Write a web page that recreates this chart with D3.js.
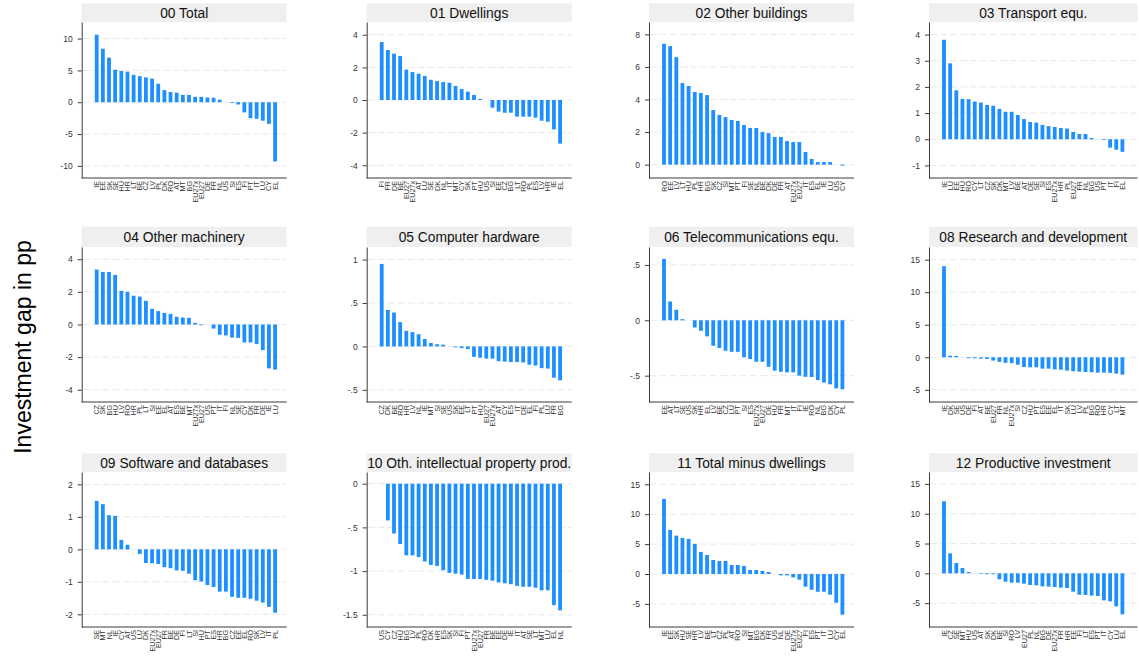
<!DOCTYPE html>
<html><head><meta charset="utf-8">
<script src="https://cdn.jsdelivr.net/npm/d3@7"></script>
<style>
body{margin:0;background:#fff}
svg{display:block;font-family:"Liberation Sans",Arial,Helvetica,sans-serif}
</style>
</head><body>
<svg id="chart" width="1139" height="656"></svg>
<script>
// ---------- DATA ----------
const titles = ["00 Total","01 Dwellings","02 Other buildings","03 Transport equ.",
  "04 Other machinery","05 Computer hardware","06 Telecommunications equ.","08 Research and development",
  "09 Software and databases","10 Oth. intellectual property prod.","11 Total minus dwellings","12 Productive investment"];

const labels00 = ["IE","EE","SK","SE","HU","HR","LT","BE","CZ","LV","PL","DK","RO","AT","MT","BG","EU27x","EU27","DE","FR","NL","US","SI","ES","FI","PT","IT","LU","CY","EL"];
const values00 = [10.6,8.4,7.0,5.1,4.9,4.8,4.3,4.1,3.9,3.7,2.9,1.9,1.6,1.5,1.15,1.15,0.85,0.85,0.75,0.7,0.4,0,-0.12,-0.35,-1.6,-2.5,-2.6,-2.9,-3.4,-9.3];

const labels01 = ["FI","FR","DE","BE","EU27","EU27x","AT","LU","SE","DK","NL","IT","MT","CY","SK","PT","HU","US","SI","EE","CZ","BG","LT","RO","PL","ES","LV","HR","IE","EL"];
const values01 = [3.55,3.06,2.84,2.69,1.86,1.71,1.61,1.47,1.24,1.16,1.10,1.06,0.86,0.67,0.51,0.31,0.06,0,-0.47,-0.71,-0.78,-0.78,-1.02,-1.02,-1.02,-1.08,-1.27,-1.33,-1.8,-2.67];

const labels02 = ["RO","EE","LV","LT","HU","PL","HR","BG","SK","CZ","SI","MT","PT","FI","SE","NL","BE","DK","DE","FR","AT","EU27x","EU27","IT","ES","EL","IE","LU","US","CY"];
const values02 = [7.42,7.28,6.6,5.01,4.83,4.46,4.4,4.27,3.35,3.05,2.92,2.74,2.68,2.43,2.25,2.25,2.0,1.94,1.7,1.7,1.45,1.39,1.39,0.78,0.35,0.16,0.16,0.16,0,-0.06];

const labels03 = ["IE","LU","EE","HU","RO","CY","LT","CZ","SK","DK","MT","LV","BE","AT","DE","SE","SI","ES","EU27x","HR","PL","EU27","FR","NL","BG","US","PT","IT","FI","EL"];
const values03 = [3.8,2.9,1.87,1.54,1.53,1.44,1.4,1.31,1.28,1.16,1.05,1.05,0.93,0.77,0.66,0.64,0.55,0.5,0.47,0.43,0.41,0.28,0.2,0.2,0.05,0,-0.03,-0.32,-0.4,-0.48];

const labels04 = ["CZ","SK","BG","HU","LV","RO","HR","PL","LT","SI","EE","EL","AT","ES","BE","MT","EU27x","EU27","US","PT","IT","FI","NL","SE","CY","DK","FR","DE","IE","LU"];
const values04 = [3.37,3.22,3.22,3.04,2.06,2.0,1.76,1.71,1.45,0.96,0.82,0.71,0.65,0.47,0.43,0.41,0.1,-0.05,0,-0.25,-0.63,-0.67,-0.8,-0.82,-1.1,-1.1,-1.2,-1.57,-2.69,-2.76];

const labels05 = ["CZ","DK","BE","RO","HR","LV","NL","IE","MT","SI","SE","US","SK","EE","LT","PT","HU","EU27","EU27x","AT","CY","ES","IT","DE","EL","FI","PL","LU","FR","BG"];
const values05 = [0.95,0.42,0.39,0.28,0.18,0.165,0.14,0.085,0.04,0.025,0.02,0,-0.01,-0.02,-0.03,-0.12,-0.13,-0.14,-0.14,-0.17,-0.175,-0.18,-0.18,-0.185,-0.21,-0.22,-0.25,-0.255,-0.36,-0.39];

const labels06 = ["EE","AT","LT","SE","US","SK","HR","EL","LV","BE","CZ","LU","PT","SI","ES","EU27x","EU27","DE","HU","FR","MT","IT","FI","IE","RO","NL","BG","DK","CY","PL"];
const values06 = [0.555,0.17,0.095,0.01,0,-0.065,-0.095,-0.145,-0.23,-0.25,-0.275,-0.285,-0.285,-0.335,-0.35,-0.375,-0.375,-0.42,-0.455,-0.465,-0.47,-0.47,-0.5,-0.51,-0.512,-0.54,-0.563,-0.578,-0.615,-0.623];

const labels08 = ["IE","DK","SE","US","DE","FI","AT","BE","EU27","FR","NL","EU27x","SI","CZ","HU","PT","ES","EE","EL","IT","SK","LU","LV","PL","BG","RO","HR","CY","LT","MT"];
const values08 = [14.0,0.25,0.2,0,-0.15,-0.15,-0.2,-0.25,-0.5,-0.7,-0.85,-0.9,-1.13,-1.49,-1.54,-1.54,-1.74,-1.74,-1.85,-1.9,-2.05,-2.15,-2.2,-2.26,-2.3,-2.36,-2.36,-2.4,-2.51,-2.67];

const labels09 = ["SE","MT","NL","IE","CY","AT","US","LU","DK","EU27x","EU27","FR","BE","DE","FI","LT","SI","HU","PT","ES","HR","BG","CZ","EE","EL","RO","SK","LV","IT","PL"];
const values09 = [1.49,1.39,1.05,1.03,0.29,0.14,0,-0.14,-0.42,-0.43,-0.45,-0.55,-0.58,-0.65,-0.66,-0.75,-0.95,-0.99,-1.1,-1.16,-1.3,-1.3,-1.46,-1.49,-1.49,-1.52,-1.58,-1.64,-1.77,-1.95];

const labels10 = ["US","CY","CZ","HU","BG","LV","PL","RO","DK","HR","ES","SK","SI","FI","PT","EU27x","EU27","FR","BE","EE","DE","IE","IT","AT","SE","LT","MT","LU","EL","NL"];
const values10 = [0,-0.42,-0.57,-0.69,-0.82,-0.82,-0.84,-0.89,-0.93,-0.94,-0.99,-1.02,-1.03,-1.04,-1.09,-1.09,-1.09,-1.10,-1.11,-1.13,-1.14,-1.15,-1.17,-1.18,-1.18,-1.19,-1.22,-1.22,-1.39,-1.45];

const labels11 = ["IE","EE","SK","HU","SE","HR","LV","BE","LT","CZ","PL","AT","RO","SI","MT","BG","DK","FR","US","NL","DE","EU27x","EU27","FI","ES","PT","IT","LU","CY","EL"];
const values11 = [12.57,7.37,6.42,6.03,5.87,5.03,3.69,3.18,2.35,2.18,2.18,1.51,1.51,1.34,0.67,0.67,0.5,0.34,0,-0.22,-0.22,-0.56,-0.95,-2.12,-2.63,-2.96,-2.96,-3.46,-4.8,-6.8];

const labels12 = ["IE","CZ","SE","MT","HU","US","AT","SK","DK","BE","SI","RO","LV","EU27","PL","NL","BG","DE","EU27x","FR","HR","EE","FI","LT","ES","PT","IT","CY","LU","EL"];
const values12 = [12.1,3.35,1.73,0.9,0.22,0,-0.1,-0.15,-0.15,-1.0,-1.4,-1.56,-1.56,-1.73,-1.95,-2.0,-2.18,-2.23,-2.29,-2.4,-2.46,-3.07,-3.58,-3.63,-3.74,-3.8,-4.53,-4.7,-5.53,-6.87];

const tickSets = [[-10,-5,0,5,10],[-4,-2,0,2,4],[0,2,4,6,8],[-1,0,1,2,3,4],
  [-4,-2,0,2,4],[-0.5,0,0.5,1],[-0.5,0,0.5],[-5,0,5,10,15],
  [-2,-1,0,1,2],[-1.5,-1,-0.5,0],[-5,0,5,10,15],[-5,0,5,10,15]];
const yRanges = [[-11.9,12.6],[-4.78,4.78],[-0.82,8.76],[-1.48,4.48],
  [-4.75,4.75],[-0.64,1.145],[-0.738,0.662],[-6.87,16.95],
  [-2.39,2.38],[-1.64,0.134],[-8.86,17.06],[-9.0,17.0]];
const yTitle = "Investment gap in pp";

const allLabels = [labels00,labels01,labels02,labels03,labels04,labels05,labels06,labels08,labels09,labels10,labels11,labels12];
const allValues = [values00,values01,values02,values03,values04,values05,values06,values08,values09,values10,values11,values12];

// ---------- LAYOUT ----------
const colX = [81.7, 366.7, 649, 929];
const colW = [205, 205, 205, 208.5];
const rowHead = [3.3, 226.7, 453.3];
const rowTop = [22, 247, 472];
const rowBot = [178, 402, 627];

const svg = d3.select("#chart");
const fmt = v => String(v).replace(/^(-?)0\./, "$1.");

svg.append("text")
  .attr("transform", "translate(31,347) rotate(-90)")
  .attr("text-anchor", "middle")
  .attr("font-size", 23)
  .attr("fill", "#000")
  .text(yTitle);

titles.forEach((title, i) => {
  const c = i % 4, r = Math.floor(i / 4);
  const W = colW[c];
  const g = svg.append("g").attr("transform", `translate(${colX[c]},0)`);
  const labels = allLabels[i], values = allValues[i];

  // header
  g.append("rect").attr("x", 0).attr("y", rowHead[r]).attr("width", W)
    .attr("height", rowTop[r] - rowHead[r]).attr("fill", "#efefef");
  g.append("text").attr("x", W / 2).attr("y", (rowHead[r] + rowTop[r]) / 2 + 0.5)
    .attr("text-anchor", "middle").attr("dominant-baseline", "central")
    .attr("font-size", 13.8).attr("fill", "#111").text(title);

  const y = d3.scaleLinear().domain(yRanges[i]).range([rowBot[r], rowTop[r]]);
  const x = d3.scalePoint().domain(labels).range([15, 193.4]);

  // grid
  g.append("g").selectAll("line").data(tickSets[i]).join("line")
    .attr("x1", 1).attr("x2", W).attr("y1", d => y(d)).attr("y2", d => y(d))
    .attr("stroke", "#e8e8e8").attr("stroke-width", 1).attr("stroke-dasharray", "7,3");

  // bars
  const bw = 3.8;
  g.append("g").selectAll("rect").data(values).join("rect")
    .attr("x", (d, k) => x(labels[k]) - bw / 2)
    .attr("width", bw)
    .attr("y", d => Math.min(y(d), y(0)))
    .attr("height", d => Math.abs(y(d) - y(0)))
    .attr("fill", "#1e8fff");

  // y axis
  const ax = g.append("g").call(d3.axisLeft(y).tickValues(tickSets[i]).tickFormat(fmt)
      .tickSize(4).tickSizeOuter(0).tickPadding(5));
  ax.select(".domain").attr("stroke", "#3a3a3a");
  ax.selectAll(".tick line").attr("stroke", "#3a3a3a");
  ax.selectAll(".tick text").attr("font-size", 8.5).attr("fill", "#333")
    .attr("font-family", '"Liberation Sans",Arial,sans-serif');

  // bottom axis line
  g.append("line").attr("x1", 0).attr("x2", W).attr("y1", rowBot[r]).attr("y2", rowBot[r])
    .attr("stroke", "#3a3a3a");

  // x labels
  g.append("g").selectAll("text").data(labels).join("text")
    .attr("transform", d => `translate(${x(d)},${rowBot[r] + 3}) rotate(-90)`)
    .attr("text-anchor", "end").attr("dy", "0.35em")
    .attr("font-size", 7.2).attr("fill", "#333").text(d => d);
});
</script>
</body></html>
